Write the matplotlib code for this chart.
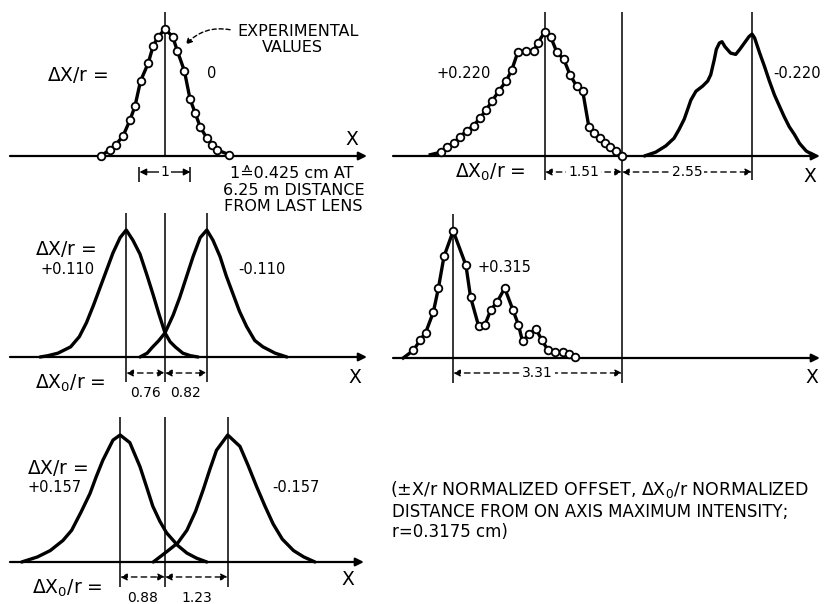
import matplotlib.pyplot as plt

# intensity profiles, x in units of r (0 = on-axis maximum), y normalized intensity

# dX/r = 0, measured points
a_x = [-1.26, -1.08, -0.96, -0.82, -0.69, -0.59, -0.48, -0.33, -0.23, -0.13, 0.00,
       0.15, 0.24, 0.38, 0.49, 0.59, 0.69, 0.82, 0.92, 1.01, 1.26]
a_y = [0.00, 0.05, 0.09, 0.16, 0.28, 0.39, 0.59, 0.73, 0.87, 0.94, 1.00,
       0.94, 0.83, 0.67, 0.45, 0.34, 0.23, 0.14, 0.09, 0.05, 0.01]

# dX/r = +0.110 / -0.110
b_left_x = [-2.45, -2.30, -2.10, -1.85, -1.68, -1.54, -1.40, -1.27, -1.14, -1.02, -0.88,
            -0.76, -0.63, -0.49, -0.35, -0.24, -0.12, 0.00, 0.10, 0.20, 0.35, 0.50, 0.65]
b_left_y = [0.00, 0.01, 0.03, 0.08, 0.16, 0.27, 0.41, 0.55, 0.69, 0.82, 0.94,
            1.00, 0.92, 0.81, 0.64, 0.50, 0.34, 0.19, 0.12, 0.08, 0.03, 0.01, 0.00]
b_right_x = [-0.49, -0.35, -0.24, -0.12, 0.00, 0.16, 0.29, 0.42, 0.55, 0.69, 0.82, 0.94,
             1.08, 1.20, 1.33, 1.46, 1.60, 1.76, 1.92, 2.16, 2.39]
b_right_y = [0.00, 0.03, 0.08, 0.13, 0.19, 0.33, 0.47, 0.63, 0.79, 0.94, 1.00, 0.92,
             0.79, 0.64, 0.50, 0.36, 0.24, 0.13, 0.08, 0.03, 0.00]
b_offsets = [-0.76, 0.82]

# dX/r = +0.157 / -0.157
c_left_x = [-2.81, -2.50, -2.25, -2.00, -1.83, -1.65, -1.47, -1.35, -1.22, -1.02, -0.88,
            -0.69, -0.49, -0.36, -0.24, -0.10, 0.03, 0.25, 0.43, 0.62, 0.82]
c_left_y = [0.00, 0.04, 0.09, 0.17, 0.25, 0.39, 0.54, 0.67, 0.80, 0.96, 1.00,
            0.94, 0.75, 0.59, 0.44, 0.32, 0.23, 0.13, 0.07, 0.03, 0.00]
c_right_x = [-0.23, 0.03, 0.25, 0.43, 0.60, 0.75, 0.88, 1.01, 1.23, 1.47, 1.63, 1.80,
             1.96, 2.12, 2.30, 2.52, 2.72, 2.94]
c_right_y = [0.00, 0.08, 0.15, 0.25, 0.40, 0.57, 0.73, 0.88, 1.00, 0.91, 0.76, 0.59,
             0.44, 0.30, 0.18, 0.09, 0.04, 0.00]
c_offsets = [-0.88, 1.23]

# dX/r = +0.220 (measured) / -0.220
d_left_x = [-3.76, -3.55, -3.43, -3.30, -3.18, -3.04, -2.91, -2.78, -2.67, -2.55,
            -2.42, -2.27, -2.16, -2.04, -1.88, -1.73, -1.65, -1.51, -1.40, -1.28,
            -1.14, -1.02, -0.89, -0.77, -0.65, -0.55, -0.43, -0.33, -0.24, -0.12, 0.00]
d_left_y = [0.01, 0.03, 0.07, 0.10, 0.15, 0.20, 0.24, 0.30, 0.36, 0.43,
            0.51, 0.59, 0.68, 0.82, 0.83, 0.83, 0.89, 0.98, 0.94, 0.82,
            0.76, 0.64, 0.55, 0.51, 0.23, 0.18, 0.14, 0.10, 0.07, 0.04, 0.00]
d_right_x = [0.44, 0.66, 0.86, 1.02, 1.12, 1.22, 1.29, 1.35, 1.45, 1.58, 1.68, 1.74,
             1.81, 1.85, 1.91, 1.96, 2.02, 2.13, 2.23, 2.31, 2.40, 2.49, 2.55, 2.60,
             2.70, 2.79, 2.89, 2.99, 3.09, 3.18, 3.28, 3.38, 3.48, 3.61, 3.78]
d_right_y = [0.00, 0.03, 0.08, 0.14, 0.21, 0.29, 0.37, 0.44, 0.51, 0.55, 0.59, 0.64,
             0.76, 0.84, 0.89, 0.90, 0.86, 0.81, 0.80, 0.84, 0.89, 0.94, 0.96, 0.93,
             0.81, 0.71, 0.59, 0.48, 0.39, 0.31, 0.23, 0.17, 0.10, 0.04, 0.00]
d_offsets = [-1.51, 2.55]

# dX/r = +0.315 (measured)
e_x = [-4.29, -4.09, -3.96, -3.85, -3.70, -3.60, -3.49, -3.31, -3.06, -2.97,
       -2.81, -2.69, -2.57, -2.45, -2.30, -2.14, -2.03, -1.95, -1.82, -1.69,
       -1.57, -1.45, -1.32, -1.15, -1.04, -0.92]
e_y = [0.00, 0.06, 0.14, 0.20, 0.36, 0.55, 0.80, 1.00, 0.73, 0.48,
       0.25, 0.26, 0.38, 0.44, 0.55, 0.38, 0.26, 0.13, 0.19, 0.23,
       0.14, 0.06, 0.05, 0.05, 0.03, 0.01]
e_offset = -3.31

W, H = 828, 604
SX, SY = 51.0, 127.0
fig = plt.figure(figsize=(W / 100, H / 100), dpi=100)
fig.patch.set_facecolor('white')

LW = 2.4
BIG = 13.5
MID = 10.5
SMALL = 10
NOTE = 11.5


def panel(x0, x1, y0, y1, zero, base):
    ax = fig.add_axes([x0 / W, 1 - y1 / H, (x1 - x0) / W, (y1 - y0) / H])
    ax.set_xlim((x0 - zero) / SX, (x1 - zero) / SX)
    ax.set_ylim((base - y1) / SY, (base - y0) / SY)
    ax.axis('off')
    return ax


def baseline(ax, x0, x1):
    ax.annotate('', xy=(x1, 0), xytext=(x0, 0), annotation_clip=False,
                arrowprops=dict(arrowstyle='-|>', lw=1.6, color='k',
                                mutation_scale=12, shrinkA=0, shrinkB=0))


def dim(ax, a, b, y, dashed=True):
    ax.annotate('', xy=(b, y), xytext=(a, y), annotation_clip=False,
                arrowprops=dict(arrowstyle='<|-|>', lw=1.0, color='k',
                                ls=(0, (4, 3)) if dashed else '-',
                                mutation_scale=10, shrinkA=0, shrinkB=0))


def vl(ax, xs, lo, hi):
    ax.vlines(xs, lo, hi, colors='k', lw=1.1, clip_on=False)


def measured(ax, x, y, skip_first=False):
    ax.plot(x, y, color='k', lw=LW, solid_joinstyle='round', zorder=2)
    s = 1 if skip_first else 0
    ax.plot(x[s:], y[s:], 'o', mfc='white', mec='k', ms=5.5, mew=1.3, zorder=3)


def curve(ax, x, y):
    ax.plot(x, y, color='k', lw=LW, solid_joinstyle='round',
            solid_capstyle='round', zorder=2)


dx0 = r'$\Delta$X$_0$/r ='

# ---- top left: dX/r = 0
ax = panel(5, 375, 0, 200, 165, 156)
baseline(ax, -3.04, 3.96)
vl(ax, [0], 0, 1.13)
measured(ax, a_x, a_y)
ax.text(-2.31, 0.64, r'$\Delta$X/r =', fontsize=BIG, va='center')
ax.text(0.82, 0.65, '0', fontsize=MID, va='center')
ax.text(2.61, 0.98, 'EXPERIMENTAL', fontsize=NOTE, ha='center', va='center')
ax.text(2.49, 0.855, 'VALUES', fontsize=NOTE, ha='center', va='center')
ax.annotate('', xy=(0.37, 0.86), xytext=(1.33, 0.99),
            arrowprops=dict(arrowstyle='-|>', ls=(0, (3, 2)), lw=1.0, color='k',
                            mutation_scale=9, connectionstyle='arc3,rad=0.3'))
vl(ax, [-0.5, 0.5], -0.205, -0.087)
dim(ax, -0.5, 0.5, -0.126, dashed=False)
ax.text(0, -0.126, '1', fontsize=SMALL, ha='center', va='center',
        bbox=dict(fc='white', ec='none', pad=1))
ax.text(2.49, -0.134, '1\u22590.425 cm AT', fontsize=NOTE, ha='center', va='center')
ax.text(2.52, -0.268, '6.25 m DISTANCE', fontsize=NOTE, ha='center', va='center')
ax.text(2.52, -0.40, 'FROM LAST LENS', fontsize=NOTE, ha='center', va='center')
ax.text(3.67, 0.13, 'X', fontsize=BIG, ha='center', va='center')

# ---- middle left: +/-0.110
ax = panel(5, 375, 200, 400, 165, 357)
baseline(ax, -3.04, 3.96)
vl(ax, b_offsets + [0], -0.20, 1.13)
curve(ax, b_left_x, b_left_y)
curve(ax, b_right_x, b_right_y)
ax.text(-2.55, 0.85, r'$\Delta$X/r =', fontsize=BIG, va='center')
ax.text(-2.45, 0.69, '+0.110', fontsize=MID, va='center')
ax.text(1.43, 0.69, '-0.110', fontsize=MID, va='center')
dim(ax, b_offsets[0], 0, -0.126)
dim(ax, 0, b_offsets[1], -0.126)
ax.text(b_offsets[0] / 2, -0.28, f'{-b_offsets[0]:.2f}', fontsize=SMALL, ha='center', va='center')
ax.text(b_offsets[1] / 2, -0.28, f'{b_offsets[1]:.2f}', fontsize=SMALL, ha='center', va='center')
ax.text(-2.55, -0.205, dx0, fontsize=BIG, va='center')
ax.text(3.73, -0.165, 'X', fontsize=BIG, ha='center', va='center')

# ---- bottom left: +/-0.157
ax = panel(5, 375, 400, 604, 165, 562)
baseline(ax, -3.04, 3.90)
vl(ax, c_offsets + [0], -0.20, 1.14)
curve(ax, c_left_x, c_left_y)
curve(ax, c_right_x, c_right_y)
ax.text(-2.71, 0.74, r'$\Delta$X/r =', fontsize=BIG, va='center')
ax.text(-2.69, 0.59, '+0.157', fontsize=MID, va='center')
ax.text(2.10, 0.59, '-0.157', fontsize=MID, va='center')
dim(ax, c_offsets[0], 0, -0.118)
dim(ax, 0, c_offsets[1], -0.118)
ax.text(c_offsets[0] / 2, -0.28, f'{-c_offsets[0]:.2f}', fontsize=SMALL, ha='center', va='center')
ax.text(c_offsets[1] / 2, -0.28, f'{c_offsets[1]:.2f}', fontsize=SMALL, ha='center', va='center')
ax.text(-2.61, -0.205, dx0, fontsize=BIG, va='center')
ax.text(3.59, -0.14, 'X', fontsize=BIG, ha='center', va='center')

# ---- top right: +/-0.220
ax = panel(385, 828, 0, 200, 622, 156)
baseline(ax, -4.49, 3.88)
vl(ax, d_offsets, -0.19, 1.13)
vl(ax, [0], -1.79, 1.13)
measured(ax, d_left_x, d_left_y, skip_first=True)
curve(ax, d_right_x, d_right_y)
ax.text(-3.63, 0.65, '+0.220', fontsize=MID, va='center')
ax.text(2.96, 0.65, '-0.220', fontsize=MID, va='center')
dim(ax, d_offsets[0], 0, -0.126)
dim(ax, 0, d_offsets[1], -0.126)
ax.text(d_offsets[0] / 2, -0.126, f'{-d_offsets[0]:.2f}', fontsize=SMALL, ha='center',
        va='center', bbox=dict(fc='white', ec='none', pad=1.5))
ax.text(d_offsets[1] / 2, -0.126, f'{d_offsets[1]:.2f}', fontsize=SMALL, ha='center',
        va='center', bbox=dict(fc='white', ec='none', pad=1.5))
ax.text(-3.27, -0.126, dx0, fontsize=BIG, va='center')
ax.text(3.69, -0.165, 'X', fontsize=BIG, ha='center', va='center')

# ---- middle right: +0.315
ax = panel(385, 828, 200, 400, 622, 358)
baseline(ax, -4.49, 3.88)
vl(ax, [e_offset], -0.20, 1.13)
measured(ax, e_x, e_y, skip_first=True)
ax.text(-2.84, 0.71, '+0.315', fontsize=MID, va='center')
dim(ax, e_offset, 0, -0.118)
ax.text(e_offset / 2, -0.118, f'{-e_offset:.2f}', fontsize=SMALL, ha='center',
        va='center', bbox=dict(fc='white', ec='none', pad=1.5))
ax.text(3.73, -0.15, 'X', fontsize=BIG, ha='center', va='center')

# ---- note
fig.text(390 / W, 1 - 490 / H, r'($\pm$X/r NORMALIZED OFFSET, $\Delta$X$_0$/r NORMALIZED',
         fontsize=12.5, va='center')
fig.text(392 / W, 1 - 512 / H, 'DISTANCE FROM ON AXIS MAXIMUM INTENSITY;',
         fontsize=12, va='center')
fig.text(392 / W, 1 - 532 / H, 'r=0.3175 cm)', fontsize=12, va='center')

fig.savefig('out.png', dpi=100, facecolor='white')
